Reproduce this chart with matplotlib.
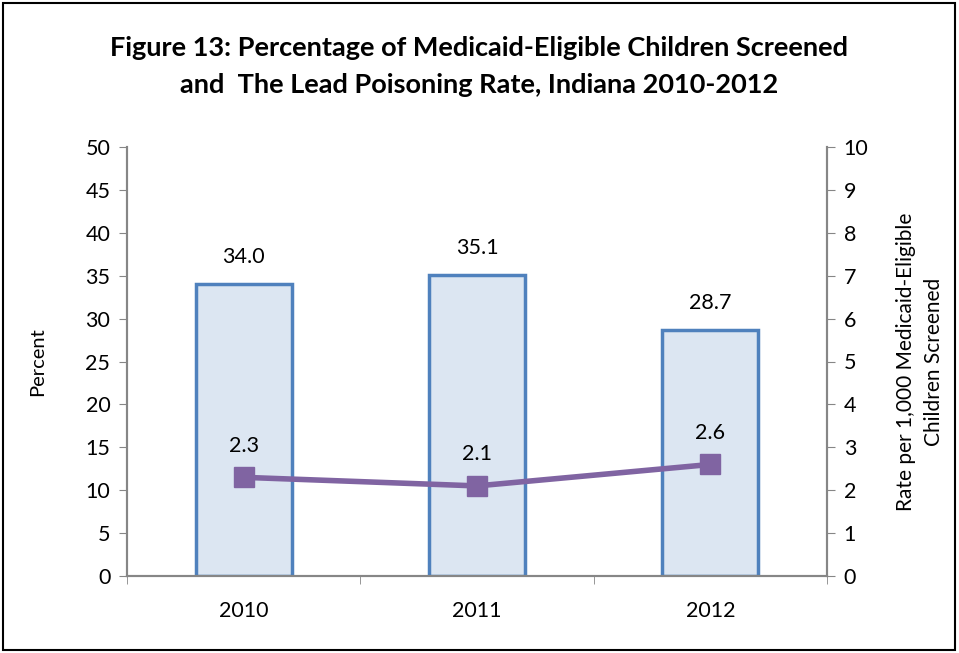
import matplotlib.pyplot as plt
from matplotlib.patches import Rectangle

years = ['2010', '2011', '2012']
pct_screened = [34.0, 35.1, 28.7]
poison_rate = [2.3, 2.1, 2.6]

plt.rcParams['font.family'] = ['Lato', 'DejaVu Sans']

fig = plt.figure(figsize=(9.59, 6.53), dpi=100)
ax = fig.add_axes([127 / 959, 1 - 576 / 653, 700 / 959, 429 / 653])
ax2 = ax.twinx()

x = range(len(years))
ax.bar(x, pct_screened, width=0.41, color='#dce6f2', edgecolor='#4f81bd', linewidth=2.5, zorder=2)
for i, v in enumerate(pct_screened):
    ax.text(i, v + 2.0, f'{v:.1f}', ha='center', va='bottom', fontsize=15.5)

ax2.plot(x, poison_rate, color='#8064a2', linewidth=4, marker='s', markersize=14, zorder=3)
for i, v in enumerate(poison_rate):
    ax2.text(i, v + 0.5, f'{v:.1f}', ha='center', va='bottom', fontsize=15.5)

ax.set_xlim(-0.5, 2.5)
ax.set_ylim(0, 50)
ax2.set_ylim(0, 10)
ax.set_yticks(range(0, 51, 5))
ax2.set_yticks(range(0, 11))
ax.set_xticks(list(x))
ax.set_xticklabels(years)
ax.set_xticks([-0.5, 0.5, 1.5, 2.5], minor=True)
ax.tick_params(axis='x', which='major', length=0, pad=18, labelsize=15.5)
ax.tick_params(axis='x', which='minor', length=6, color='#868686', direction='out')
ax.tick_params(axis='y', length=6, color='#868686', labelsize=15.5, pad=6)
ax2.tick_params(axis='y', length=6, color='#868686', labelsize=15.5, pad=6)

for a in (ax, ax2):
    a.spines['top'].set_visible(False)
    for s in ('left', 'right', 'bottom'):
        a.spines[s].set_color('#868686')
        a.spines[s].set_linewidth(1.5)

ax.set_ylabel('Percent', fontsize=14.5, labelpad=28)
ax2.set_ylabel('Rate per 1,000 Medicaid-Eligible\nChildren Screened', fontsize=15, labelpad=20,
               linespacing=1.5)

fig.text(0.5, 1 - 48 / 653, 'Figure 13: Percentage of Medicaid-Eligible Children Screened',
         ha='center', va='center', fontsize=19.5, fontweight='bold')
fig.text(0.5, 1 - 85 / 653, 'and  The Lead Poisoning Rate, Indiana 2010-2012',
         ha='center', va='center', fontsize=19.5, fontweight='bold')

fig.patches.append(Rectangle((3 / 959, 3 / 653), 952 / 959, 647 / 653, transform=fig.transFigure,
                             fill=False, edgecolor='black', linewidth=1.5))

plt.savefig('out.png', dpi=100)
